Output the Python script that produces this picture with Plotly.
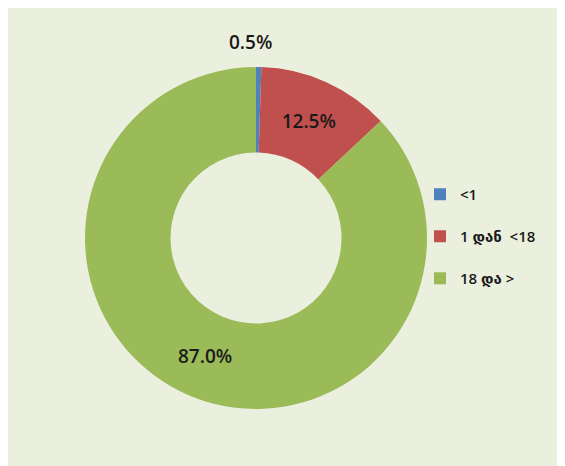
import plotly.graph_objects as go

# data
labels = ["<1", "1 დან  <18", "18 და >"]
values = [0.5, 12.5, 87.0]
colors = ["#4F81BD", "#C0504D", "#9BBB59"]

OFF = 8  # the page body adds an 8px margin on the left and top
W, H = 565 - OFF, 466 - OFF

FONT = "Open Sans, DejaVu Sans"
BG = "#EBF0DE"

# a blank line under each legend label so the entries sit far apart like the original
legend_labels = [lab + "<br>&nbsp;" for lab in labels]

# the smallest slice gets its label above the ring as an annotation
slice_text = ["" if v < 1 else f"{v:.1f}%" for v in values]

cx, cy, r = 256 - OFF, H - (238 - OFF), 171

fig = go.Figure(go.Pie(
    labels=legend_labels,
    values=values,
    text=slice_text,
    textinfo="text",
    sort=False,
    direction="clockwise",
    rotation=0,
    hole=0.5,
    marker=dict(colors=colors, line=dict(width=0)),
    textposition="inside",
    insidetextorientation="horizontal",
    textfont=dict(family=FONT, size=19, color="#1a1a1a", weight=600),
    domain=dict(x=[(cx - r) / W, (cx + r) / W],
                y=[(cy - r) / H, (cy + r) / H]),
    hovertemplate="%{value:.1f}%<extra></extra>",
))

fig.add_annotation(
    text=f"{values[0]:.1f}%", showarrow=False,
    xref="paper", yref="paper",
    x=(250 - OFF) / W, y=1 - (42 - OFF) / H,
    xanchor="center", yanchor="middle",
    font=dict(family=FONT, size=19, color="#1a1a1a", weight=600),
)

fig.update_layout(
    width=W, height=H,
    margin=dict(l=0, r=0, t=0, b=0),
    paper_bgcolor=BG,
    plot_bgcolor=BG,
    font=dict(family=FONT, color="#1a1a1a"),
    legend=dict(
        x=(420 - OFF) / W, y=1 - (178 - OFF) / H,
        xanchor="left", yanchor="top",
        font=dict(size=15, family=FONT, color="#1a1a1a", weight=600),
        bgcolor="rgba(0,0,0,0)",
        valign="top",
    ),
)

fig.write_html("out.html")
